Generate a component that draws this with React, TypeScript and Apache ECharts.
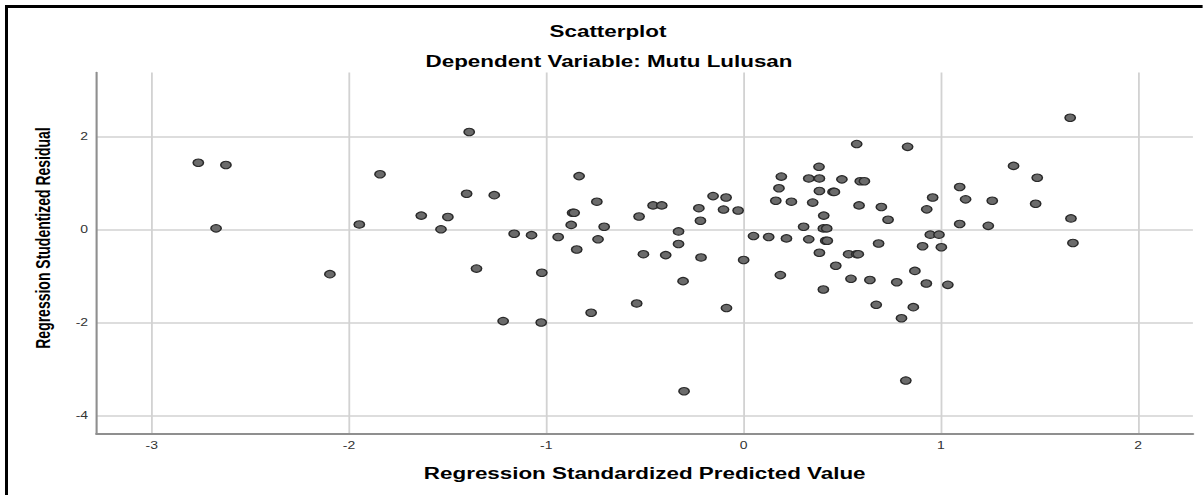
import React, { useEffect, useRef } from 'react';
import * as echarts from 'echarts';

// Horizontal stretch of the reference picture (it was widened after export)
const STRETCH = 1.4;
const PAGE_W = 1203;
const PAGE_H = 495;
const CHART_W = PAGE_W / STRETCH;

const chartTitle = 'Scatterplot';
const chartSubtitle = 'Dependent Variable: Mutu Lulusan';
const xAxisTitle = 'Regression Standardized Predicted Value';
const yAxisTitle = 'Regression Studentized Residual';

const xRange = [-3.28, 2.277];
const yRange = [-4.39, 3.39];

const predictedValues = [
  -2.764, -2.624, -2.674, -2.097, -1.948, -1.843, -1.391, -1.404, -1.264, -1.634,
  -1.499, -1.534, -1.163, -1.075, -0.94, -1.354, -1.023, -1.219, -1.026, -0.834,
  -0.744, -0.867, -0.859, -0.874, -0.707, -0.738, -0.846, -0.773, -0.53, -0.459,
  -0.415, -0.33, -0.33, -0.508, -0.395, -0.307, -0.542, -0.227, -0.219, -0.216,
  -0.155, -0.089, -0.102, -0.028, -0.087, 0.0, 0.05, 0.127, 0.217, 0.163,
  0.242, 0.179, 0.191, 0.186, 0.33, 0.384, 0.382, 0.384, 0.453, 0.46,
  0.498, 0.35, 0.304, 0.33, 0.406, 0.404, 0.421, 0.416, 0.424, 0.384,
  0.467, 0.404, 0.532, 0.573, 0.581, 0.544, 0.573, 0.591, 0.612, 0.585,
  0.64, 0.672, 0.698, 0.732, 0.684, 0.776, 0.8, 0.831, 0.86, 0.868,
  0.907, 0.928, 0.958, 0.926, 0.946, 0.99, 1.002, 1.035, 1.095, 1.095,
  1.125, 1.26, 1.24, 1.368, 1.488, 1.48, 1.655, 1.659, 1.669, -0.302,
  0.822,
];

const studentizedResiduals = [
  1.447, 1.4, 0.036, -0.95, 0.12, 1.2, 2.11, 0.78, 0.75, 0.31,
  0.28, 0.015, -0.08, -0.11, -0.15, -0.83, -0.92, -1.96, -1.99, 1.16,
  0.61, 0.37, 0.37, 0.11, 0.07, -0.2, -0.42, -1.78, 0.29, 0.53,
  0.53, -0.03, -0.3, -0.52, -0.54, -1.1, -1.58, 0.47, 0.2, -0.59,
  0.73, 0.7, 0.44, 0.42, -1.68, -0.645, -0.13, -0.15, -0.18, 0.63,
  0.61, 0.9, 1.15, -0.97, 1.11, 1.11, 1.36, 0.84, 0.82, 0.82,
  1.09, 0.59, 0.07, -0.2, 0.31, 0.035, 0.035, -0.23, -0.23, -0.49,
  -0.77, -1.28, -0.52, -0.52, -0.52, -1.05, 1.85, 1.05, 1.05, 0.53,
  -1.075, -1.61, 0.495, 0.22, -0.29, -1.125, -1.9, 1.79, -1.66, -0.88,
  -0.35, 0.445, 0.7, -1.15, -0.1, -0.1, -0.37, -1.18, 0.925, 0.13,
  0.66, 0.63, 0.09, 1.38, 1.125, 0.565, 2.415, 0.25, -0.28, -3.47,
  -3.24,
];

const FONT = '"Liberation Sans", Arial, Helvetica, sans-serif';

export default function App() {
  const ref = useRef<HTMLDivElement>(null);

  useEffect(() => {
    document.body.style.margin = '0';
    document.body.style.overflow = 'hidden';
    const chart = echarts.init(ref.current as HTMLDivElement, null, { renderer: 'svg' });
    const points = predictedValues.map((x, i) => [x, studentizedResiduals[i]]);

    const option: any = {
      animation: false,
      backgroundColor: '#ffffff',
      textStyle: { fontFamily: FONT },
      title: [
        {
          text: chartTitle,
          left: 608 / STRETCH,
          top: 23,
          textAlign: 'center',
          padding: 0,
          textStyle: { fontSize: 16, fontWeight: 'bold', color: '#000', fontFamily: FONT },
        },
        {
          text: chartSubtitle,
          left: 609 / STRETCH,
          top: 53.5,
          textAlign: 'center',
          padding: 0,
          textStyle: { fontSize: 16, fontWeight: 'bold', color: '#000', fontFamily: FONT },
        },
      ],
      grid: {
        left: 96.5 / STRETCH,
        right: CHART_W - 1193.3 / STRETCH,
        top: 72.5,
        bottom: PAGE_H - 434,
        containLabel: false,
      },
      xAxis: {
        type: 'value',
        min: xRange[0],
        max: xRange[1],
        splitNumber: 5,
        name: xAxisTitle,
        nameLocation: 'middle',
        nameGap: 31,
        nameTextStyle: { fontSize: 16, fontWeight: 'bold', color: '#000', fontFamily: FONT },
        axisLine: { show: true, onZero: false, lineStyle: { color: '#8f8f8f', width: 2 } },
        axisTick: { show: false },
        axisLabel: {
          show: true,
          showMinLabel: false,
          showMaxLabel: false,
          fontSize: 10,
          color: '#333',
          margin: 7,
          fontFamily: FONT,
        },
        splitLine: {
          show: true,
          showMinLine: false,
          showMaxLine: false,
          lineStyle: { color: '#d2d2d2', width: 1.3 },
        },
      },
      yAxis: {
        type: 'value',
        min: yRange[0],
        max: yRange[1],
        splitNumber: 5,
        axisLine: { show: true, onZero: false, lineStyle: { color: '#8f8f8f', width: 1.5 } },
        axisTick: { show: false },
        axisLabel: {
          show: true,
          showMinLabel: false,
          showMaxLabel: false,
          fontSize: 10,
          color: '#333',
          margin: 6,
          fontFamily: FONT,
        },
        splitLine: {
          show: true,
          showMinLine: false,
          showMaxLine: false,
          lineStyle: { color: '#d2d2d2', width: 1.5 },
        },
      },
      graphic: [
        {
          type: 'rect',
          shape: { x: 5 / STRETCH, y: 5, width: (PAGE_W - 5) / STRETCH, height: 3 },
          style: { fill: '#000' },
          silent: true,
        },
        {
          type: 'rect',
          shape: { x: 5 / STRETCH, y: 5, width: 3 / STRETCH, height: PAGE_H - 5 },
          style: { fill: '#000' },
          silent: true,
        },
        {
          type: 'text',
          x: 44 / STRETCH,
          y: 238,
          rotation: Math.PI / 2,
          style: {
            text: yAxisTitle,
            font: `bold 14px ${FONT}`,
            fill: '#000',
            textAlign: 'center',
            textVerticalAlign: 'middle',
          },
          silent: true,
        },
      ],
      series: [
        {
          type: 'scatter',
          data: points,
          symbol: 'circle',
          symbolSize: 7.4,
          itemStyle: {
            color: '#6b6b6b',
            borderColor: '#2a2a2a',
            borderWidth: 1.1,
            opacity: 1,
          },
          z: 5,
        },
      ],
    };

    chart.setOption(option);
    return () => chart.dispose();
  }, []);

  return (
    <div
      ref={ref}
      style={{
        position: 'absolute',
        left: 0,
        top: 0,
        width: CHART_W,
        height: PAGE_H,
        transform: `scaleX(${STRETCH})`,
        transformOrigin: '0 0',
      }}
    />
  );
}
